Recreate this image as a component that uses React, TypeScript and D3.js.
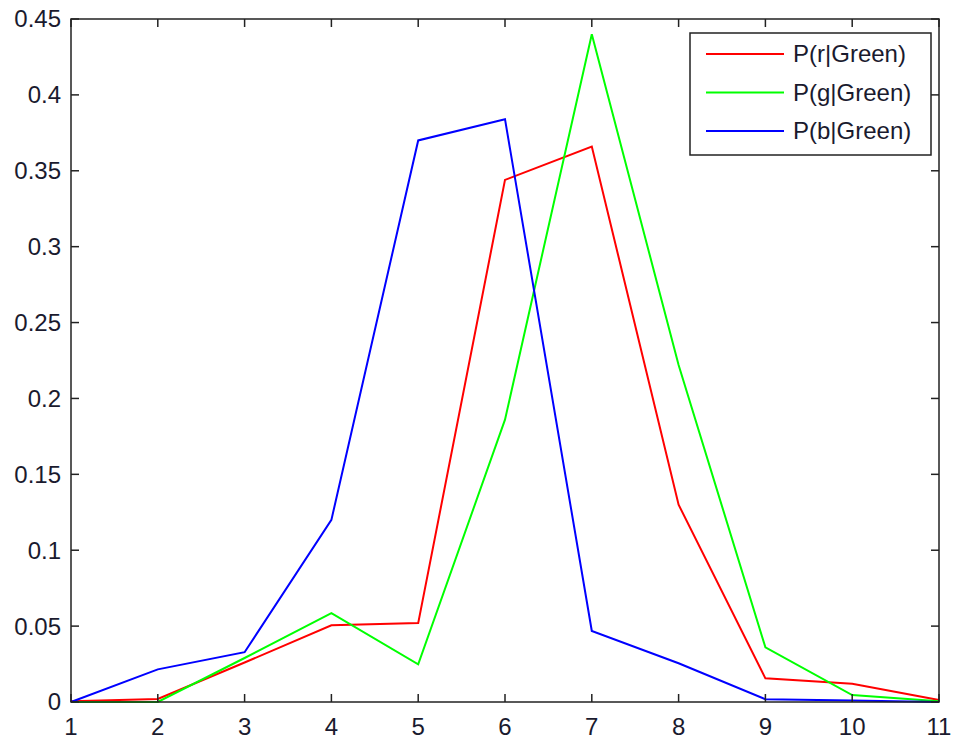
import React from "react";
import * as d3 from "d3";

const xValues = [1, 2, 3, 4, 5, 6, 7, 8, 9, 10, 11];
const redValues = [0.0005, 0.002, 0.026, 0.0505, 0.052, 0.344, 0.366, 0.13, 0.0156, 0.012, 0.0013];
const greenValues = [0, 0, 0.029, 0.0585, 0.0248, 0.186, 0.44, 0.222, 0.036, 0.0046, 0.0005];
const blueValues = [0, 0.0215, 0.0328, 0.12, 0.37, 0.384, 0.0468, 0.0255, 0.0018, 0.001, 0];
const seriesNames = ["P(r|Green)", "P(g|Green)", "P(b|Green)"];
const seriesColors = ["#ff0000", "#00ff00", "#0000ff"];
const yTicks = [0, 0.05, 0.1, 0.15, 0.2, 0.25, 0.3, 0.35, 0.4, 0.45];

const width = 957,
  height = 742;
const margin = { left: 71, right: 18, top: 19, bottom: 40 };
const font = "'Liberation Sans', Arial, sans-serif";

export default function App() {
  const x = d3
    .scaleLinear()
    .domain([1, 11])
    .range([margin.left, width - margin.right]);
  const y = d3
    .scaleLinear()
    .domain([0, 0.45])
    .range([height - margin.bottom, margin.top]);

  const line = d3
    .line<number>()
    .x((d, i) => x(xValues[i]))
    .y(d => y(d));

  const allSeries = [redValues, greenValues, blueValues];
  const x0 = x(1),
    x1 = x(11),
    y0 = y(0),
    y1 = y(0.45);
  const tickLen = 8;
  const axisColor = "#222";

  return (
    <svg
      width={width}
      height={height}
      style={{ position: "absolute", left: 0, top: 0, background: "#fff" }}
    >
      {allSeries.map((s, i) => (
        <path
          key={seriesNames[i]}
          d={line(s) || ""}
          fill="none"
          stroke={seriesColors[i]}
          strokeWidth={2}
        />
      ))}

      <rect
        x={x0}
        y={y1}
        width={x1 - x0}
        height={y0 - y1}
        fill="none"
        stroke={axisColor}
        strokeWidth={1.5}
      />

      {xValues.map(v => (
        <g key={"xt" + v}>
          <line x1={x(v)} x2={x(v)} y1={y0} y2={y0 - tickLen} stroke={axisColor} strokeWidth={1.5} />
          <line x1={x(v)} x2={x(v)} y1={y1} y2={y1 + tickLen} stroke={axisColor} strokeWidth={1.5} />
          <text
            x={x(v)}
            y={y0 + 33}
            textAnchor="middle"
            fontFamily={font}
            fontSize={24}
            fill="#1a1a2e"
          >
            {v}
          </text>
        </g>
      ))}

      {yTicks.map(v => (
        <g key={"yt" + v}>
          <line x1={x0} x2={x0 + tickLen} y1={y(v)} y2={y(v)} stroke={axisColor} strokeWidth={1.5} />
          <line x1={x1} x2={x1 - tickLen} y1={y(v)} y2={y(v)} stroke={axisColor} strokeWidth={1.5} />
          <text
            x={x0 - 10}
            y={y(v)}
            dy="0.35em"
            textAnchor="end"
            fontFamily={font}
            fontSize={24}
            fill="#1a1a2e"
          >
            {String(v)}
          </text>
        </g>
      ))}

      <g transform="translate(690,33)">
        <rect x={0} y={0} width={241} height={122} fill="#fff" stroke={axisColor} strokeWidth={1.5} />
        {seriesNames.map((name, i) => (
          <g key={name} transform={`translate(0,${21 + i * 38.5})`}>
            <line x1={16} x2={94} y1={0} y2={0} stroke={seriesColors[i]} strokeWidth={2} />
            <text x={103} y={0} dy="0.35em" fontFamily={font} fontSize={24} fill="#1a1a2e">
              {name}
            </text>
          </g>
        ))}
      </g>
    </svg>
  );
}
